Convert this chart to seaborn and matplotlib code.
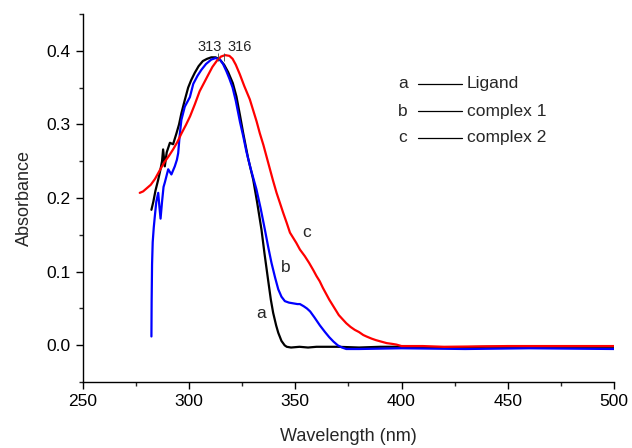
import pandas as pd
import matplotlib
matplotlib.use('Agg')
import matplotlib.pyplot as plt
from matplotlib.ticker import MultipleLocator, FormatStrFormatter
import seaborn as sns

# --- Data ---
ligand_x = [282.3, 283.2, 284.2, 285.5, 286.5, 287.3, 287.8, 288.6, 289.5, 291, 292.5, 294.1,
            295.3, 296.4, 298, 299.6, 301, 302.7, 304.5, 306.5, 308.5, 310.5, 312.5, 314.5,
            316.5, 318.4, 320.6, 322.3, 324, 325.5, 327.8, 330.2, 332, 334.1, 335.5, 337.2,
            338.5, 339.6, 341, 342, 343.5, 345, 346, 348, 352, 356, 360, 370, 380, 390,
            400, 420, 440, 460, 480, 500]
ligand_y = [0.184, 0.195, 0.210, 0.225, 0.238, 0.250, 0.266, 0.243, 0.262, 0.275, 0.273, 0.288,
            0.300, 0.315, 0.333, 0.350, 0.360, 0.370, 0.379, 0.386, 0.389, 0.391, 0.391, 0.388,
            0.381, 0.371, 0.356, 0.338, 0.312, 0.288, 0.254, 0.225, 0.195, 0.157, 0.125, 0.089,
            0.062, 0.044, 0.027, 0.017, 0.006, 0.000, -0.002, -0.003, -0.002, -0.003, -0.002,
            -0.002, -0.003, -0.002, -0.002, -0.003, -0.002, -0.002, -0.002, -0.002]

complex1_x = [282.3, 282.4, 282.6, 282.9, 283.4, 283.9, 284.6, 285.5, 286.0, 286.6, 287.3, 288.0,
              288.6, 290.2, 291.7, 293.3, 294.3, 294.9, 295.6, 296.4, 298, 300.4, 302, 304,
              305.8, 308, 310.5, 312.5, 314.5, 316, 317.6, 319, 320.5, 322, 324, 325.5, 327,
              329, 331.7, 333.7, 335.7, 337.3, 338.8, 340.5, 342, 343.5, 345.1, 347, 349, 351,
              352.2, 354, 355.5, 357, 359, 361.6, 364, 366, 368, 370, 372, 374, 380, 400,
              430, 460, 500]
complex1_y = [0.012, 0.060, 0.110, 0.140, 0.160, 0.175, 0.195, 0.207, 0.190, 0.172, 0.195, 0.215,
              0.221, 0.239, 0.232, 0.243, 0.252, 0.261, 0.285, 0.306, 0.324, 0.337, 0.355, 0.366,
              0.374, 0.382, 0.388, 0.390, 0.388, 0.382, 0.372, 0.362, 0.350, 0.332, 0.303, 0.284,
              0.263, 0.240, 0.212, 0.186, 0.157, 0.133, 0.112, 0.092, 0.076, 0.066, 0.060, 0.058,
              0.057, 0.056, 0.056, 0.053, 0.050, 0.046, 0.038, 0.027, 0.018, 0.011, 0.005, 0.000,
              -0.003, -0.005, -0.005, -0.004, -0.005, -0.004, -0.005]

complex2_x = [276.8, 278.4, 280, 282, 284, 286.3, 288.5, 290.5, 292.5, 294.5, 296.5, 298.5,
              300.5, 302.7, 305, 307, 308.8, 311, 313, 315, 317, 319, 320.5, 322, 323.9, 326,
              328.6, 330.2, 331.8, 333.3, 335, 336.5, 338, 339.5, 341.2, 342.7, 344.3, 346,
              347.5, 349, 350.5, 352.2, 354.5, 356.5, 358.5, 360, 361.5, 363, 364.5, 366,
              367.5, 369, 370.5, 372.4, 374, 376, 378, 380, 382, 383.5, 386, 388, 390.5, 393,
              395.5, 397.6, 400, 410, 420, 450, 500]
complex2_y = [0.207, 0.209, 0.213, 0.218, 0.226, 0.238, 0.249, 0.257, 0.266, 0.276, 0.288, 0.299,
              0.311, 0.327, 0.345, 0.356, 0.366, 0.378, 0.386, 0.392, 0.394, 0.393, 0.389, 0.381,
              0.368, 0.352, 0.334, 0.319, 0.304, 0.288, 0.272, 0.256, 0.240, 0.224, 0.207, 0.194,
              0.180, 0.166, 0.153, 0.146, 0.139, 0.130, 0.121, 0.112, 0.102, 0.094, 0.087, 0.078,
              0.070, 0.062, 0.055, 0.048, 0.041, 0.035, 0.030, 0.025, 0.021, 0.018, 0.014, 0.012,
              0.009, 0.007, 0.005, 0.003, 0.002, 0.001, -0.001, -0.001, -0.002, -0.001, -0.001]

series_names = ['Ligand', 'complex 1', 'complex 2']
series_letters = ['a', 'b', 'c']
series_colors = ['black', '#0000ff', '#ff0000']

# curve letter labels (data coords)
letter_x = [333.8, 345.6, 355.3]
letter_y = [0.043, 0.106, 0.153]

# peak labels and peak marks
peak_labels = ['313', '316']
peak_pos = [313.7, 316.5]
peak_text_x = [309.8, 324.0]
peak_text_y = [0.405, 0.405]

# --- Build long table ---
frames = []
for name, xs, ys in zip(series_names,
                        [ligand_x, complex1_x, complex2_x],
                        [ligand_y, complex1_y, complex2_y]):
    frames.append(pd.DataFrame({'Wavelength': xs, 'Absorbance': ys, 'Sample': name}))
df = pd.concat(frames, ignore_index=True)

# --- Plot ---
sns.set_style('ticks')
plt.rcParams['font.family'] = ['Liberation Sans', 'DejaVu Sans']

fig = plt.figure(figsize=(6.32, 4.48), dpi=100)
ax = fig.add_axes([0.131, 0.147, 0.8405, 0.822])

for name, color in zip(series_names, series_colors):
    sns.lineplot(data=df[df['Sample'] == name], x='Wavelength', y='Absorbance',
                 color=color, linewidth=1.6, estimator=None, sort=False, ax=ax)

ax.vlines(peak_pos, 0.386, 0.397, color='#444444', linewidth=0.6)

ax.set_xlim(250, 500)
ax.set_ylim(-0.05, 0.45)
ax.xaxis.set_major_locator(MultipleLocator(50))
ax.xaxis.set_minor_locator(MultipleLocator(25))
ax.yaxis.set_minor_locator(MultipleLocator(0.05))
ax.set_yticks([0.0, 0.1, 0.2, 0.3, 0.4])
ax.yaxis.set_major_formatter(FormatStrFormatter('%.1f'))
ax.tick_params(which='major', direction='out', length=5, width=1, labelsize=12.5, colors='black')
ax.tick_params(which='minor', direction='out', length=3, width=1)
sns.despine(ax=ax)
for s in ['left', 'bottom']:
    ax.spines[s].set_color('black')
    ax.spines[s].set_linewidth(1)

ax.set_xlabel('Wavelength (nm)', fontsize=13, labelpad=14)
ax.set_ylabel('Absorbance', fontsize=13, labelpad=10)

for lt, lx, ly in zip(series_letters, letter_x, letter_y):
    ax.text(lx, ly, lt, fontsize=12.5, ha='center', va='center')

for pl, px, py in zip(peak_labels, peak_text_x, peak_text_y):
    ax.text(px, py, pl, fontsize=10.5, ha='center', va='center')

# text legend: letter, short black line, name
legend_rows = [0.810, 0.736, 0.663]
for lt, name, ry in zip(series_letters, series_names, legend_rows):
    ax.text(0.593, ry, lt, transform=ax.transAxes, fontsize=12.5, ha='left', va='center')
    ax.plot([0.631, 0.714], [ry, ry], transform=ax.transAxes, color='black', linewidth=0.9)
    ax.text(0.723, ry, name, transform=ax.transAxes, fontsize=12.5, ha='left', va='center')

fig.savefig('out.png', dpi=100)
